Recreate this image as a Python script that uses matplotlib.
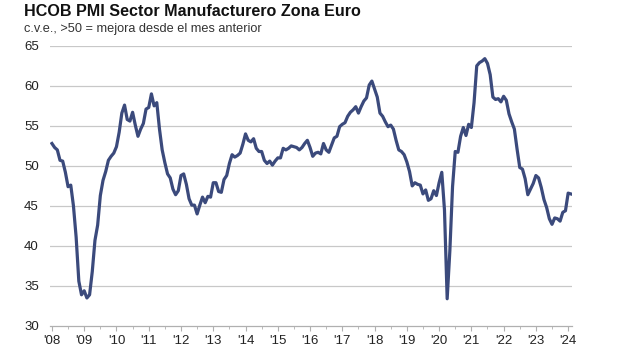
import matplotlib
matplotlib.use('Agg')
import matplotlib.pyplot as plt
import numpy as np

plt.rcParams['font.family'] = ['Liberation Sans', 'DejaVu Sans']

# monthly PMI, Jan 2008 .. Feb 2024
pmi = [
    52.8, 52.3, 52.0, 50.7, 50.6, 49.2, 47.4, 47.6, 45.0, 41.1, 35.6, 33.9,
    34.4, 33.5, 33.9, 36.8, 40.7, 42.6, 46.3, 48.2, 49.3, 50.7, 51.2, 51.6,
    52.4, 54.2, 56.6, 57.6, 55.8, 55.6, 56.7, 55.1, 53.7, 54.6, 55.3, 57.1,
    57.3, 59.0, 57.5, 57.9, 54.6, 52.0, 50.4, 49.0, 48.5, 47.1, 46.4, 46.9,
    48.8, 49.0, 47.7, 45.9, 45.1, 45.1, 44.0, 45.1, 46.1, 45.4, 46.2, 46.1,
    47.9, 47.9, 46.8, 46.7, 48.3, 48.8, 50.3, 51.4, 51.1, 51.3, 51.6, 52.7,
    54.0, 53.2, 53.0, 53.4, 52.2, 51.8, 51.8, 50.7, 50.3, 50.6, 50.1, 50.6,
    51.0, 51.0, 52.2, 52.0, 52.2, 52.5, 52.4, 52.3, 52.0, 52.3, 52.8, 53.2,
    52.3, 51.2, 51.6, 51.7, 51.5, 52.8, 52.0, 51.7, 52.6, 53.5, 53.7, 54.9,
    55.2, 55.4, 56.2, 56.7, 57.0, 57.4, 56.6, 57.4, 58.1, 58.5, 60.1, 60.6,
    59.6, 58.6, 56.6, 56.2, 55.5, 54.9, 55.1, 54.6, 53.2, 52.0, 51.8, 51.4,
    50.5, 49.3, 47.5, 47.9, 47.7, 47.6, 46.5, 47.0, 45.7, 45.9, 46.9, 46.3,
    47.9, 49.2, 44.5, 33.4, 39.4, 47.4, 51.8, 51.7, 53.7, 54.8, 53.8, 55.2,
    54.8, 57.9, 62.5, 62.9, 63.1, 63.4, 62.8, 61.4, 58.6, 58.3, 58.4, 58.0,
    58.7, 58.2, 56.5, 55.5, 54.6, 52.1, 49.8, 49.6, 48.4, 46.4, 47.1, 47.8,
    48.8, 48.5, 47.3, 45.8, 44.8, 43.4, 42.7, 43.5, 43.4, 43.1, 44.2, 44.4,
    46.6, 46.5,
]
start_year = 2008
years = list(range(2008, 2025))
year_labels = ["'%02d" % (y % 100) for y in years]
yticks = [30, 35, 40, 45, 50, 55, 60, 65]

t = start_year + np.arange(len(pmi)) / 12.0

fig = plt.figure(figsize=(6.37, 3.5), dpi=100)
ax = fig.add_axes([0.0785, 0.0686, 0.8195, 0.8004])

for y in yticks[1:]:
    ax.axhline(y, color='#c8c8c8', lw=0.9, zorder=1)

ax.plot(t, pmi, color='#3b4a7c', lw=2.3, zorder=3, solid_joinstyle='round')

ax.set_xlim(2007.94, 2024.12)
ax.set_ylim(30, 65)
ax.set_yticks(yticks)
ax.set_xticks(years)
ax.set_xticklabels(year_labels)
ax.set_xticks(np.arange(2008.5, 2024, 1.0), minor=True)

for s in ['top', 'right', 'left']:
    ax.spines[s].set_visible(False)
ax.spines['bottom'].set_color('#b0b0b0')
ax.spines['bottom'].set_linewidth(0.9)

ax.tick_params(axis='y', length=0, labelsize=9.5, pad=8, colors='#222222')
ax.tick_params(axis='x', which='major', length=3.5, color='#b0b0b0', labelsize=9.5,
               pad=3, labelcolor='#222222', direction='out')
ax.tick_params(axis='x', which='minor', length=2.5, color='#b0b0b0', direction='out')

fig.text(0.038, 0.966, 'HCOB PMI Sector Manufacturero Zona Euro', fontsize=11.6,
         fontweight='bold', color='#111111', va='center')
fig.text(0.038, 0.917, 'c.v.e., >50 = mejora desde el mes anterior', fontsize=9.2,
         color='#333333', va='center')

fig.savefig('out.png', dpi=100)
